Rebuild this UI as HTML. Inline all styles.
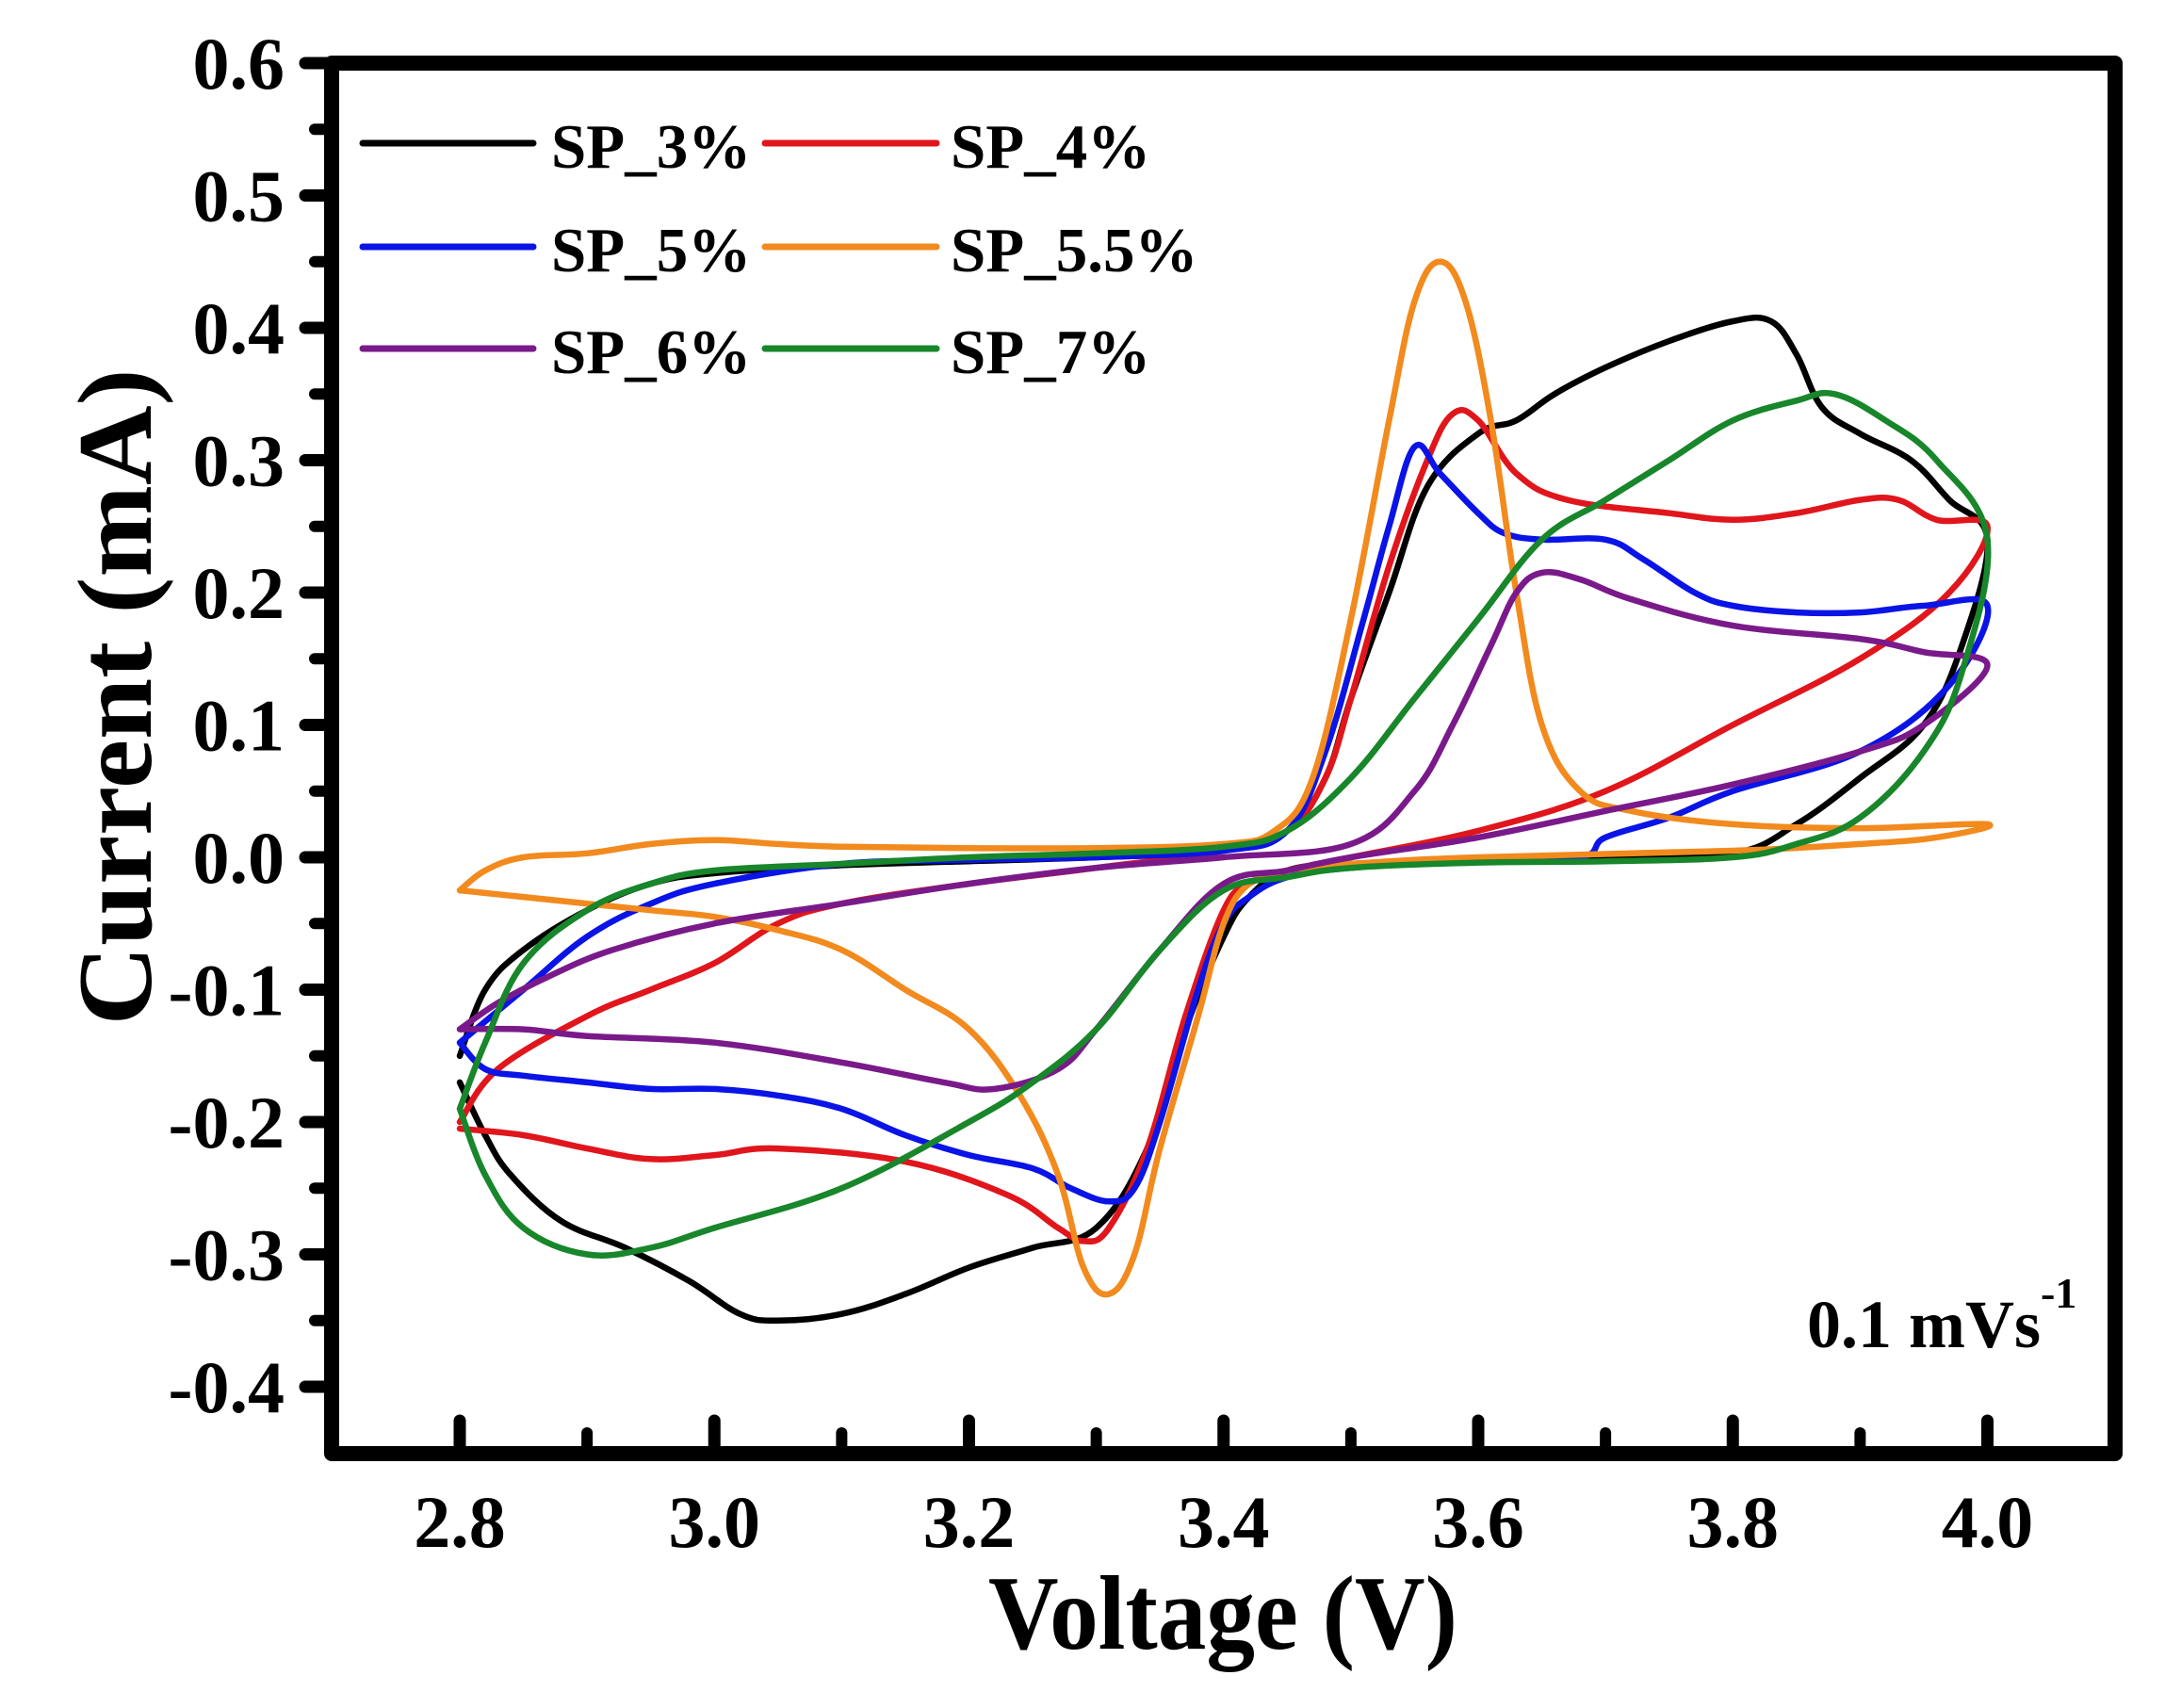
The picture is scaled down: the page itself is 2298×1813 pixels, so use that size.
<!DOCTYPE html>
<html><head><meta charset="utf-8"><style>
html,body{margin:0;padding:0;background:#fff;}
svg{display:block;}
text{font-family:"Liberation Serif",serif;font-weight:bold;fill:#000;}
</style></head><body>
<svg id="chart" width="2298" height="1813" viewBox="0 0 2298 1813" xmlns="http://www.w3.org/2000/svg">
<rect x="0" y="0" width="2298" height="1813" fill="#fff"/>
<g id="series"></g>
<g id="axes"></g>
<g id="legend"></g>
<text x="1918" y="1430" font-size="72">0.1 mVs<tspan font-size="46" dy="-42">-1</tspan></text>
<text x="1049" y="1750" font-size="112" textLength="498" lengthAdjust="spacingAndGlyphs">Voltage (V)</text>
<text transform="translate(160,740) rotate(-90)" text-anchor="middle" font-size="112" textLength="697" lengthAdjust="spacingAndGlyphs">Current (mA)</text>
</svg>
<script>
const xTicks = [2.8, 3.0, 3.2, 3.4, 3.6, 3.8, 4.0];
const xTickLabels = ["2.8", "3.0", "3.2", "3.4", "3.6", "3.8", "4.0"];
const yTicks = [-0.4, -0.3, -0.2, -0.1, 0.0, 0.1, 0.2, 0.3, 0.4, 0.5, 0.6];
const yTickLabels = ["-0.4", "-0.3", "-0.2", "-0.1", "0.0", "0.1", "0.2", "0.3", "0.4", "0.5", "0.6"];
const seriesNames = ["SP_3%", "SP_4%", "SP_5%", "SP_5.5%", "SP_6%", "SP_7%"];
const seriesColors = ["#000000", "#e0161c", "#0a14e6", "#f28a1e", "#7a1a8a", "#18862a"];
const sp3V = [2.8,2.82,2.85,2.9,2.95,3.0,3.1,3.2,3.3,3.4,3.45,3.48,3.5,3.53,3.56,3.6,3.63,3.66,3.7,3.75,3.8,3.83,3.85,3.87,3.9,3.94,3.97,4.0,3.98,3.95,3.9,3.85,3.8,3.7,3.6,3.5,3.45,3.42,3.4,3.37,3.34,3.3,3.25,3.2,3.15,3.1,3.05,3.02,2.98,2.93,2.88,2.84,2.82,2.8];
const sp3I = [-0.15,-0.10,-0.07,-0.04,-0.02,-0.012,-0.006,-0.003,0.0,0.005,0.02,0.06,0.12,0.2,0.28,0.32,0.33,0.35,0.37,0.39,0.405,0.405,0.38,0.34,0.32,0.30,0.27,0.24,0.16,0.1,0.06,0.025,0.003,0.0,-0.002,-0.005,-0.01,-0.03,-0.06,-0.13,-0.22,-0.28,-0.295,-0.31,-0.33,-0.345,-0.35,-0.345,-0.32,-0.295,-0.275,-0.24,-0.21,-0.17];
const sp4V = [2.8,2.83,2.9,2.95,3.0,3.05,3.1,3.2,3.3,3.4,3.45,3.48,3.5,3.53,3.56,3.58,3.6,3.63,3.67,3.75,3.8,3.85,3.9,3.93,3.96,4.0,3.97,3.9,3.8,3.7,3.6,3.5,3.45,3.42,3.4,3.37,3.34,3.31,3.29,3.27,3.23,3.15,3.05,3.0,2.95,2.9,2.85,2.8];
const sp4I = [-0.2,-0.16,-0.12,-0.1,-0.08,-0.05,-0.035,-0.02,-0.008,0.005,0.02,0.06,0.12,0.22,0.3,0.335,0.33,0.29,0.27,0.26,0.255,0.26,0.27,0.27,0.255,0.25,0.2,0.15,0.1,0.05,0.02,0.0,-0.01,-0.02,-0.04,-0.12,-0.22,-0.28,-0.29,-0.28,-0.255,-0.23,-0.22,-0.225,-0.228,-0.22,-0.21,-0.205];
const sp5V = [2.8,2.85,2.9,2.95,3.0,3.1,3.2,3.3,3.4,3.45,3.48,3.51,3.53,3.55,3.57,3.6,3.62,3.65,3.7,3.73,3.77,3.8,3.85,3.9,3.95,4.0,3.97,3.9,3.8,3.75,3.7,3.68,3.6,3.5,3.45,3.42,3.4,3.38,3.35,3.33,3.31,3.28,3.25,3.2,3.15,3.1,3.05,3.0,2.95,2.9,2.85,2.82,2.8];
const sp5I = [-0.14,-0.1,-0.06,-0.035,-0.02,-0.005,-0.002,0.0,0.005,0.02,0.08,0.18,0.25,0.31,0.29,0.26,0.245,0.24,0.24,0.225,0.2,0.19,0.185,0.185,0.19,0.19,0.13,0.08,0.05,0.03,0.015,0.0,-0.002,-0.008,-0.015,-0.03,-0.05,-0.1,-0.2,-0.25,-0.26,-0.25,-0.235,-0.225,-0.21,-0.19,-0.18,-0.175,-0.175,-0.17,-0.165,-0.16,-0.14];
const sp55V = [2.8,2.82,2.85,2.9,2.95,3.0,3.05,3.1,3.2,3.3,3.4,3.44,3.47,3.5,3.53,3.55,3.57,3.59,3.61,3.63,3.65,3.68,3.72,3.8,3.9,4.0,3.96,3.9,3.8,3.6,3.5,3.45,3.42,3.4,3.38,3.35,3.33,3.31,3.29,3.27,3.24,3.2,3.15,3.1,3.05,3.0,2.95,2.9,2.85,2.8];
const sp55I = [-0.025,-0.01,0.0,0.003,0.01,0.013,0.01,0.008,0.007,0.007,0.01,0.02,0.06,0.18,0.33,0.42,0.45,0.42,0.33,0.2,0.1,0.05,0.035,0.025,0.022,0.025,0.015,0.01,0.005,0.0,-0.005,-0.01,-0.02,-0.05,-0.12,-0.22,-0.3,-0.33,-0.31,-0.24,-0.18,-0.13,-0.1,-0.07,-0.055,-0.045,-0.04,-0.035,-0.03,-0.025];
const sp6V = [2.8,2.83,2.87,2.92,3.0,3.1,3.2,3.3,3.4,3.5,3.55,3.58,3.61,3.63,3.65,3.68,3.72,3.8,3.9,3.95,4.0,3.95,3.9,3.8,3.7,3.6,3.5,3.45,3.4,3.35,3.3,3.27,3.22,3.18,3.1,3.0,2.9,2.85,2.8];
const sp6I = [-0.13,-0.11,-0.09,-0.07,-0.05,-0.035,-0.02,-0.008,0.0,0.01,0.05,0.1,0.16,0.2,0.215,0.21,0.195,0.175,0.165,0.155,0.145,0.1,0.08,0.055,0.035,0.015,0.0,-0.01,-0.02,-0.07,-0.13,-0.16,-0.175,-0.17,-0.155,-0.14,-0.135,-0.13,-0.13];
const sp7V = [2.8,2.82,2.85,2.9,2.95,3.0,3.1,3.2,3.3,3.4,3.45,3.5,3.55,3.6,3.65,3.7,3.75,3.8,3.85,3.88,3.92,3.96,4.0,3.98,3.95,3.9,3.85,3.8,3.7,3.6,3.5,3.45,3.4,3.35,3.3,3.25,3.2,3.1,3.0,2.95,2.9,2.85,2.82,2.8];
const sp7I = [-0.19,-0.14,-0.08,-0.04,-0.02,-0.01,-0.005,0.0,0.003,0.008,0.02,0.06,0.12,0.18,0.24,0.27,0.3,0.33,0.345,0.35,0.33,0.3,0.24,0.14,0.08,0.03,0.01,0.0,-0.003,-0.004,-0.008,-0.015,-0.025,-0.07,-0.13,-0.17,-0.2,-0.25,-0.28,-0.295,-0.3,-0.28,-0.24,-0.19];
const seriesV = [sp3V, sp4V, sp5V, sp55V, sp6V, sp7V];
const seriesI = [sp3I, sp4I, sp5I, sp55I, sp6I, sp7I];

const NS = "http://www.w3.org/2000/svg";
const X0 = 488, XPER = 270.25 / 0.2;
const Y0 = 67, YPER = 140.5 / 0.1;
function xs(v){ return X0 + (v - 2.8) * XPER; }
function ys(c){ return Y0 + (0.6 - c) * YPER; }
function mk(tag, attrs, parent){
  const e = document.createElementNS(NS, tag);
  for (const k in attrs) e.setAttribute(k, attrs[k]);
  parent.appendChild(e);
  return e;
}
function smoothPath(pts){
  let d = 'M' + pts[0][0].toFixed(1) + ',' + pts[0][1].toFixed(1);
  for (let i = 0; i < pts.length - 1; i++){
    const p0 = pts[Math.max(0, i - 1)], p1 = pts[i], p2 = pts[i + 1], p3 = pts[Math.min(pts.length - 1, i + 2)];
    const t = 0.18;
    const c1x = p1[0] + (p2[0] - p0[0]) * t, c1y = p1[1] + (p2[1] - p0[1]) * t;
    const c2x = p2[0] - (p3[0] - p1[0]) * t, c2y = p2[1] - (p3[1] - p1[1]) * t;
    d += 'C' + c1x.toFixed(1) + ',' + c1y.toFixed(1) + ' ' + c2x.toFixed(1) + ',' + c2y.toFixed(1) + ' ' + p2[0].toFixed(1) + ',' + p2[1].toFixed(1);
  }
  return d;
}
const L = 352, R = 2245, T = 67, B = 1543;

const sg = document.getElementById('series');
for (let s = 0; s < seriesNames.length; s++){
  const pts = [];
  for (let i = 0; i < seriesV[s].length; i++) pts.push([xs(seriesV[s][i]), ys(seriesI[s][i])]);
  const p = mk('path', {d: smoothPath(pts), fill: 'none', stroke: seriesColors[s], 'stroke-width': 6.5, 'stroke-linejoin': 'round', 'stroke-linecap': 'round'}, sg);
  
  
}

const ag = document.getElementById('axes');
for (let i = 0; i < yTicks.length; i++){
  const y = ys(yTicks[i]);
  const t = mk('line', {x1: 324, y1: y, x2: L, y2: y, stroke: '#000', 'stroke-width': 13, 'stroke-linecap': 'round'}, ag);
  
  
  if (i < yTicks.length - 1){
    const ym = ys(yTicks[i] + 0.05);
    const m = mk('line', {x1: 334, y1: ym, x2: L, y2: ym, stroke: '#000', 'stroke-width': 12, 'stroke-linecap': 'round'}, ag);
    
    
  }
  const lb = mk('text', {x: 302, y: y + 27, 'font-size': 78, 'text-anchor': 'end'}, ag);
  lb.textContent = yTickLabels[i];
  
  
}
for (let i = 0; i < xTicks.length; i++){
  const x = xs(xTicks[i]);
  const t = mk('line', {x1: x, y1: 1508, x2: x, y2: B, stroke: '#000', 'stroke-width': 13, 'stroke-linecap': 'round'}, ag);
  
  
  if (i < xTicks.length - 1){
    const xm = xs(xTicks[i] + 0.1);
    const m = mk('line', {x1: xm, y1: 1521, x2: xm, y2: B, stroke: '#000', 'stroke-width': 12, 'stroke-linecap': 'round'}, ag);
    
    
  }
  const lb = mk('text', {x: x, y: 1642, 'font-size': 78, 'text-anchor': 'middle'}, ag);
  lb.textContent = xTickLabels[i];
  
  
}
const frame = mk('rect', {x: L, y: T, width: R - L, height: B - T, fill: 'none', stroke: '#000', 'stroke-width': 16, 'stroke-linejoin': 'round'}, ag);



const lg = document.getElementById('legend');
const legX = [[385, 566, 585], [812, 994, 1009]];
const legY = [152, 262, 370];
for (let s = 0; s < seriesNames.length; s++){
  const c = s % 2, r = Math.floor(s / 2);
  const ln = mk('line', {x1: legX[c][0], y1: legY[r], x2: legX[c][1], y2: legY[r], stroke: seriesColors[s], 'stroke-width': 7, 'stroke-linecap': 'round'}, lg);
  
  
  const tx = mk('text', {x: legX[c][2], y: legY[r] + 26, 'font-size': 67}, lg);
  tx.textContent = seriesNames[s];
  
  
}
</script>
</body></html>
